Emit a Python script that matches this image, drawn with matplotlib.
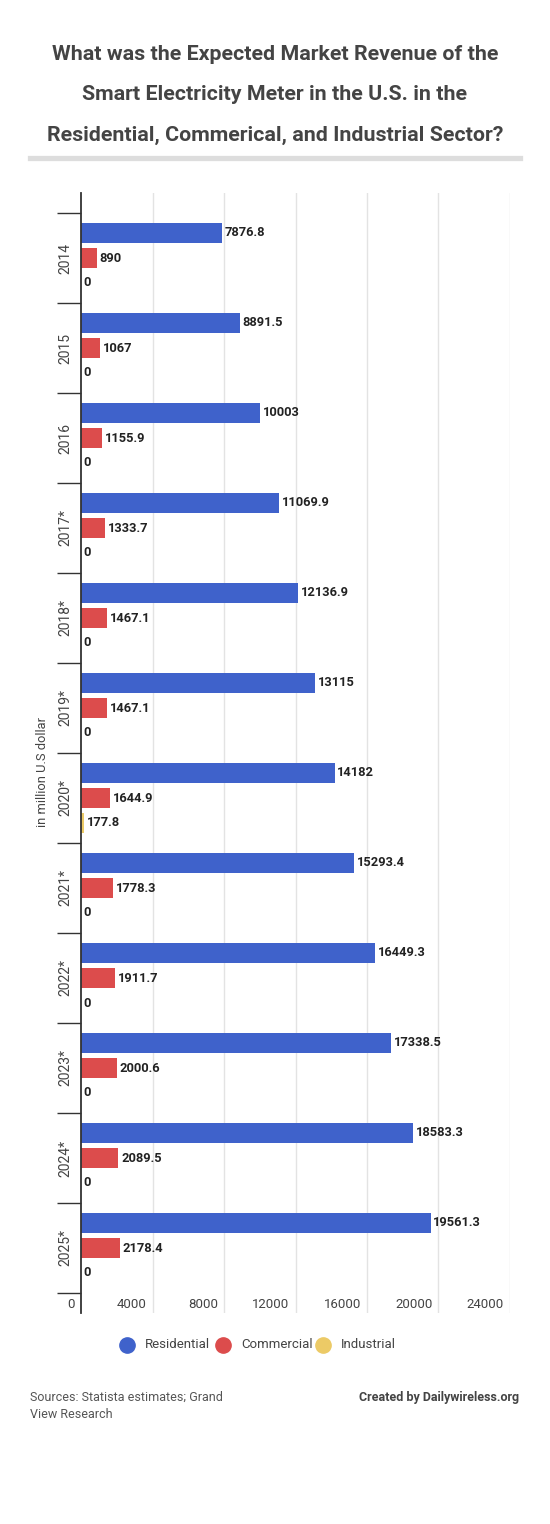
#!/usr/bin/env python3
"""
Expected market revenue of smart electricity meters in the U.S.,
by sector (horizontal grouped bars).
"""

import numpy as np
import matplotlib
matplotlib.use("Agg")
import matplotlib.pyplot as plt
from matplotlib.transforms import offset_copy
from matplotlib.lines import Line2D

# === Data ===
years = ["2014", "2015", "2016", "2017*", "2018*", "2019*", "2020*",
         "2021*", "2022*", "2023*", "2024*", "2025*"]
residential = [7876.8, 8891.5, 10003, 11069.9, 12136.9, 13115, 14182,
               15293.4, 16449.3, 17338.5, 18583.3, 19561.3]
commercial = [890, 1067, 1155.9, 1333.7, 1467.1, 1467.1, 1644.9,
              1778.3, 1911.7, 2000.6, 2089.5, 2178.4]
industrial = [0, 0, 0, 0, 0, 0, 177.8, 0, 0, 0, 0, 0]
series_names = ["Residential", "Commercial", "Industrial"]
x_ticks = [0, 4000, 8000, 12000, 16000, 20000, 24000]

# === Style ===
COLORS = ["#3f62cb", "#dc4c4c", "#ecca66"]
TEXT = "#444444"
W, H, DPI = 550, 1524, 100
plt.rcParams["font.family"] = ["Roboto", "DejaVu Sans"]


def px(x, y):
    """pixel (top-left origin) -> figure fraction"""
    return x / W, 1 - y / H


def main():
    fig = plt.figure(figsize=(W / DPI, H / DPI), dpi=DPI)

    # --- Title + separator ---
    title_lines = ["What was the Expected Market Revenue of the",
                   "Smart Electricity Meter in the U.S. in the",
                   "Residential, Commerical, and Industrial Sector?"]
    for i, line in enumerate(title_lines):
        fig.text(*px(275, 55 + 40 * i), line, ha="center", va="center",
                 fontsize=15.4, fontweight="bold", color=TEXT)
    fig.add_artist(Line2D([30 / W, 520 / W], [1 - 158 / H] * 2,
                          transform=fig.transFigure, color="#dddddd", lw=3.8))

    # --- Axes ---
    left, right, top, bottom = 81, 510, 193, 1313
    ax = fig.add_axes([left / W, 1 - bottom / H, (right - left) / W, (bottom - top) / H])
    n = len(years)
    pad = 20 / 90
    ax.set_ylim(n - 0.5 + pad, -0.5 - pad)
    ax.set_xlim(0, 24000)

    y = np.arange(n)
    bh = 20 / 90
    step = 25 / 90
    for k, vals in enumerate([residential, commercial, industrial]):
        pos = y + (k - 1) * step
        ax.barh(pos, vals, height=bh, color=COLORS[k], zorder=3)
        for p, v in zip(pos, vals):
            ax.annotate(f"{v:g}", (v, p), xytext=(2, 0), textcoords="offset points",
                        ha="left", va="center", fontsize=9.3, fontweight="bold",
                        color="#222222", zorder=4)

    # gridlines
    for t in x_ticks[1:]:
        ax.axvline(t, color="#e3e3e3", lw=1, zorder=1)
    for s in ["top", "right", "bottom"]:
        ax.spines[s].set_visible(False)
    ax.spines["left"].set_color("#333333")
    ax.spines["left"].set_linewidth(1.3)
    ax.spines["left"].set_zorder(5)

    # category band ticks + year labels
    ax.set_yticks(np.arange(-0.5, n, 1.0))
    ax.set_yticklabels([])
    ax.tick_params(axis="y", length=17, width=1, color="#333333")
    ax.set_xticks([])
    for i, yr in enumerate(years):
        ax.text(-0.037, i, yr, transform=ax.get_yaxis_transform(),
                rotation=90, ha="center", va="center", fontsize=10, color=TEXT)

    # x tick labels, drawn inside the bottom pad, shifted left of gridlines
    tr = offset_copy(ax.transData, fig=fig, x=-6, y=0, units="dots")
    for t in x_ticks:
        ax.text(t, n - 0.5 + pad - 9 / 90, f"{t}", transform=tr,
                ha="right", va="center", fontsize=9.5, color=TEXT)

    fig.text(*px(43, 772), "in million U.S dollar", rotation=90,
             ha="center", va="center", fontsize=9.3, color=TEXT)

    # --- Legend ---
    for name, c, cx in zip(series_names, COLORS, [127, 223, 323]):
        fig.add_artist(Line2D([cx / W], [1 - 1345 / H], marker="o", markersize=11,
                              color=c, transform=fig.transFigure))
        fig.text(*px(cx + 18, 1345), name, ha="left", va="center",
                 fontsize=9.5, color=TEXT)

    # --- Footer ---
    fig.text(*px(30, 1397), "Sources: Statista estimates; Grand", ha="left",
             va="center", fontsize=9, color="#555555")
    fig.text(*px(30, 1415), "View Research", ha="left", va="center",
             fontsize=9, color="#555555")
    fig.text(*px(519, 1397), "Created by Dailywireless.org", ha="right",
             va="center", fontsize=9, fontweight="bold", color="#444444")

    fig.savefig("out.png", dpi=DPI, facecolor="white")


if __name__ == "__main__":
    main()
